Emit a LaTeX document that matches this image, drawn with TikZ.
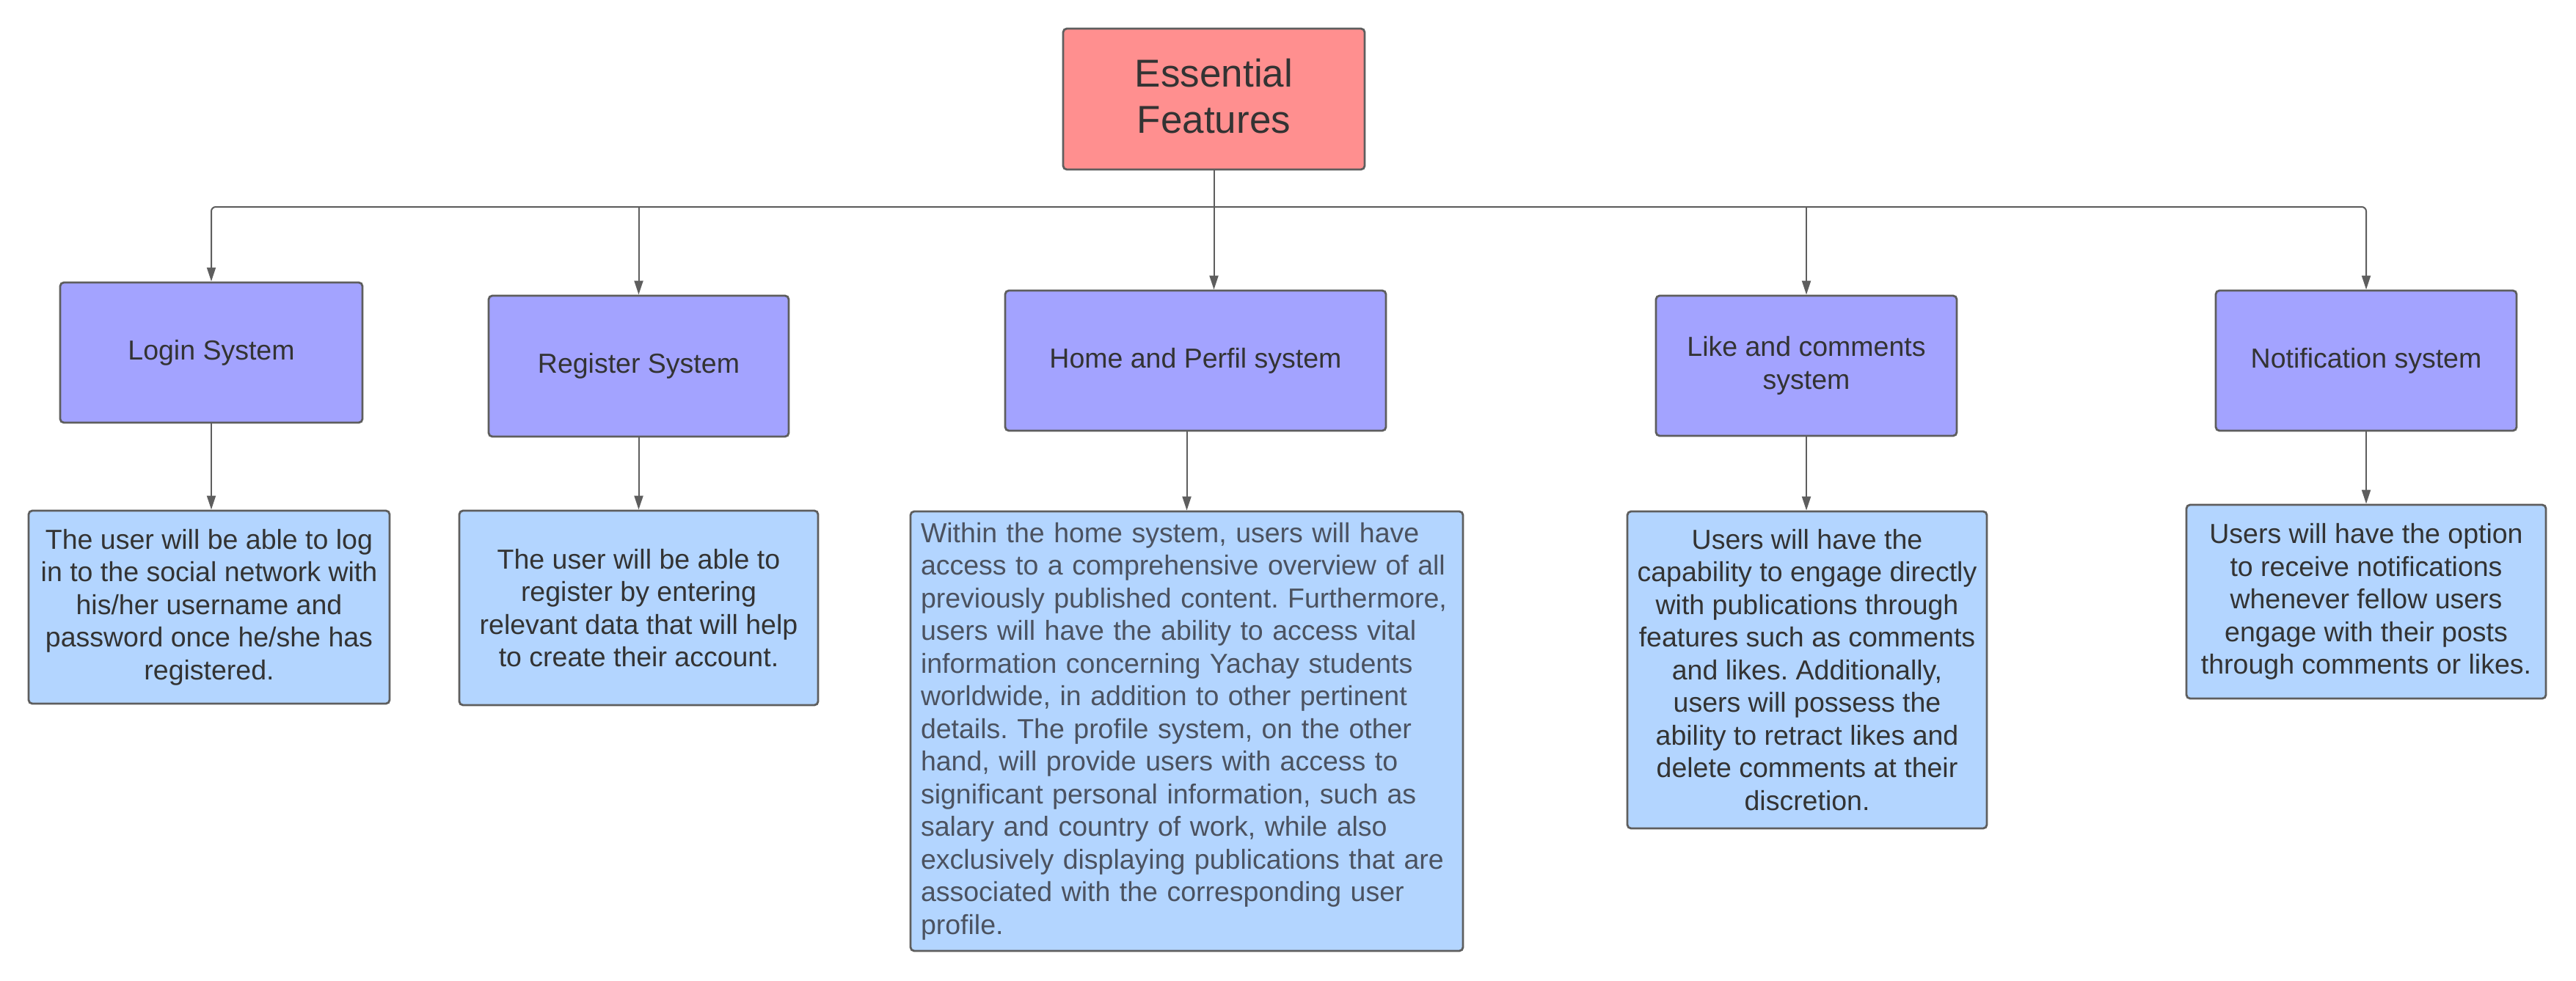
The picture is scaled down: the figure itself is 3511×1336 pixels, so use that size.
\documentclass[tikz,border=0pt]{standalone}
\usepackage{fontspec}
\setmainfont{Liberation Sans}
\frenchspacing
\usetikzlibrary{arrows.meta}
\definecolor{topfill}{HTML}{FF8F8F}
\definecolor{midfill}{HTML}{A3A3FF}
\definecolor{descfill}{HTML}{B3D5FF}
\definecolor{edge}{HTML}{5E5E5E}
\definecolor{txt}{HTML}{333333}
\definecolor{greytxt}{HTML}{4B5260}
\begin{document}
\begin{tikzpicture}[x=1pt,y=-1pt,
  boxbase/.style={draw=edge, line width=2.8pt, rounded corners=5pt, inner sep=0pt, text=txt, align=center,
    font=\frenchspacing\fontsize{37.5}{44.5}\selectfont},
  topbox/.style={boxbase, fill=topfill},
  toptext/.style={inner sep=0pt, text=txt, align=center, font=\fontsize{53}{63}\selectfont},
  featbox/.style={boxbase, fill=midfill},
  descbox/.style={boxbase, fill=descfill},
  conn/.style={draw=edge, line width=2pt, -{Triangle[length=19pt,width=12pt]}}
]
\useasboundingbox (0,0) rectangle (3511,1336);

\node[topbox, minimum width=411pt, minimum height=192pt] (top) at (1654.5,135) {};
\node[toptext] (toplabel) at (1654.5,131) {Essential\\Features};

\node[featbox, minimum width=412pt, minimum height=191pt] (login) at (288,480.5) {Login System};
\node[featbox, minimum width=409pt, minimum height=192pt] (reg) at (870.5,499) {Register System};
\node[featbox, minimum width=519pt, minimum height=191pt] (home) at (1629.5,491.5) {Home and Perfil system};
\node[featbox, minimum width=410pt, minimum height=191pt] (like) at (2462,498.5) {Like and comments\\system};
\node[featbox, minimum width=410pt, minimum height=191pt] (notif) at (3225,491.5) {Notification system};

\node[descbox, minimum width=492pt, minimum height=263pt] (logind) at (285,827.5)
  {The user will be able to log\\in to the social network with\\his/her username and\\password once he/she has\\registered.};
\node[descbox, minimum width=489pt, minimum height=265pt] (regd) at (870.5,828.5)
  {The user will be able to\\register by entering\\relevant data that will help\\to create their account.};
\node[descbox, minimum width=753pt, minimum height=599pt, align=left, text width=725pt, text=greytxt] (homed) at (1617.5,996.5)
  {Within the home system, users will have\\access to a comprehensive overview of all\\previously published content. Furthermore,\\users will have the ability to access vital\\information concerning Yachay students\\worldwide, in addition to other pertinent\\details. The profile system, on the other\\hand, will provide users with access to\\significant personal information, such as\\salary and country of work, while also\\exclusively displaying publications that are\\associated with the corresponding user\\profile.};
\node[descbox, minimum width=490pt, minimum height=432pt] (liked) at (2463,913)
  {Users will have the\\capability to engage directly\\with publications through\\features such as comments\\and likes. Additionally,\\users will possess the\\ability to retract likes and\\delete comments at their\\discretion.};
\node[descbox, minimum width=490pt, minimum height=264pt] (notifd) at (3225,820)
  {Users will have the option\\to receive notifications\\whenever fellow users\\engage with their posts\\through comments or likes.};

\coordinate (bus) at (1654.5,282);
\draw[conn] (top.south) -- (top.south |- home.north);
\draw[conn, rounded corners=6pt] (bus) -| (login.north);
\draw[conn] (bus) -| (reg.north);
\draw[conn] (bus) -| (like.north);
\draw[conn, rounded corners=6pt] (bus) -| (notif.north);

\draw[conn] (login.south) -- (login.south |- logind.north);
\draw[conn] (reg.south) -- (regd.north);
\draw[conn] (homed.north |- home.south) -- (homed.north);
\draw[conn] (like.south) -- (like.south |- liked.north);
\draw[conn] (notif.south) -- (notifd.north);
\end{tikzpicture}
\end{document}
